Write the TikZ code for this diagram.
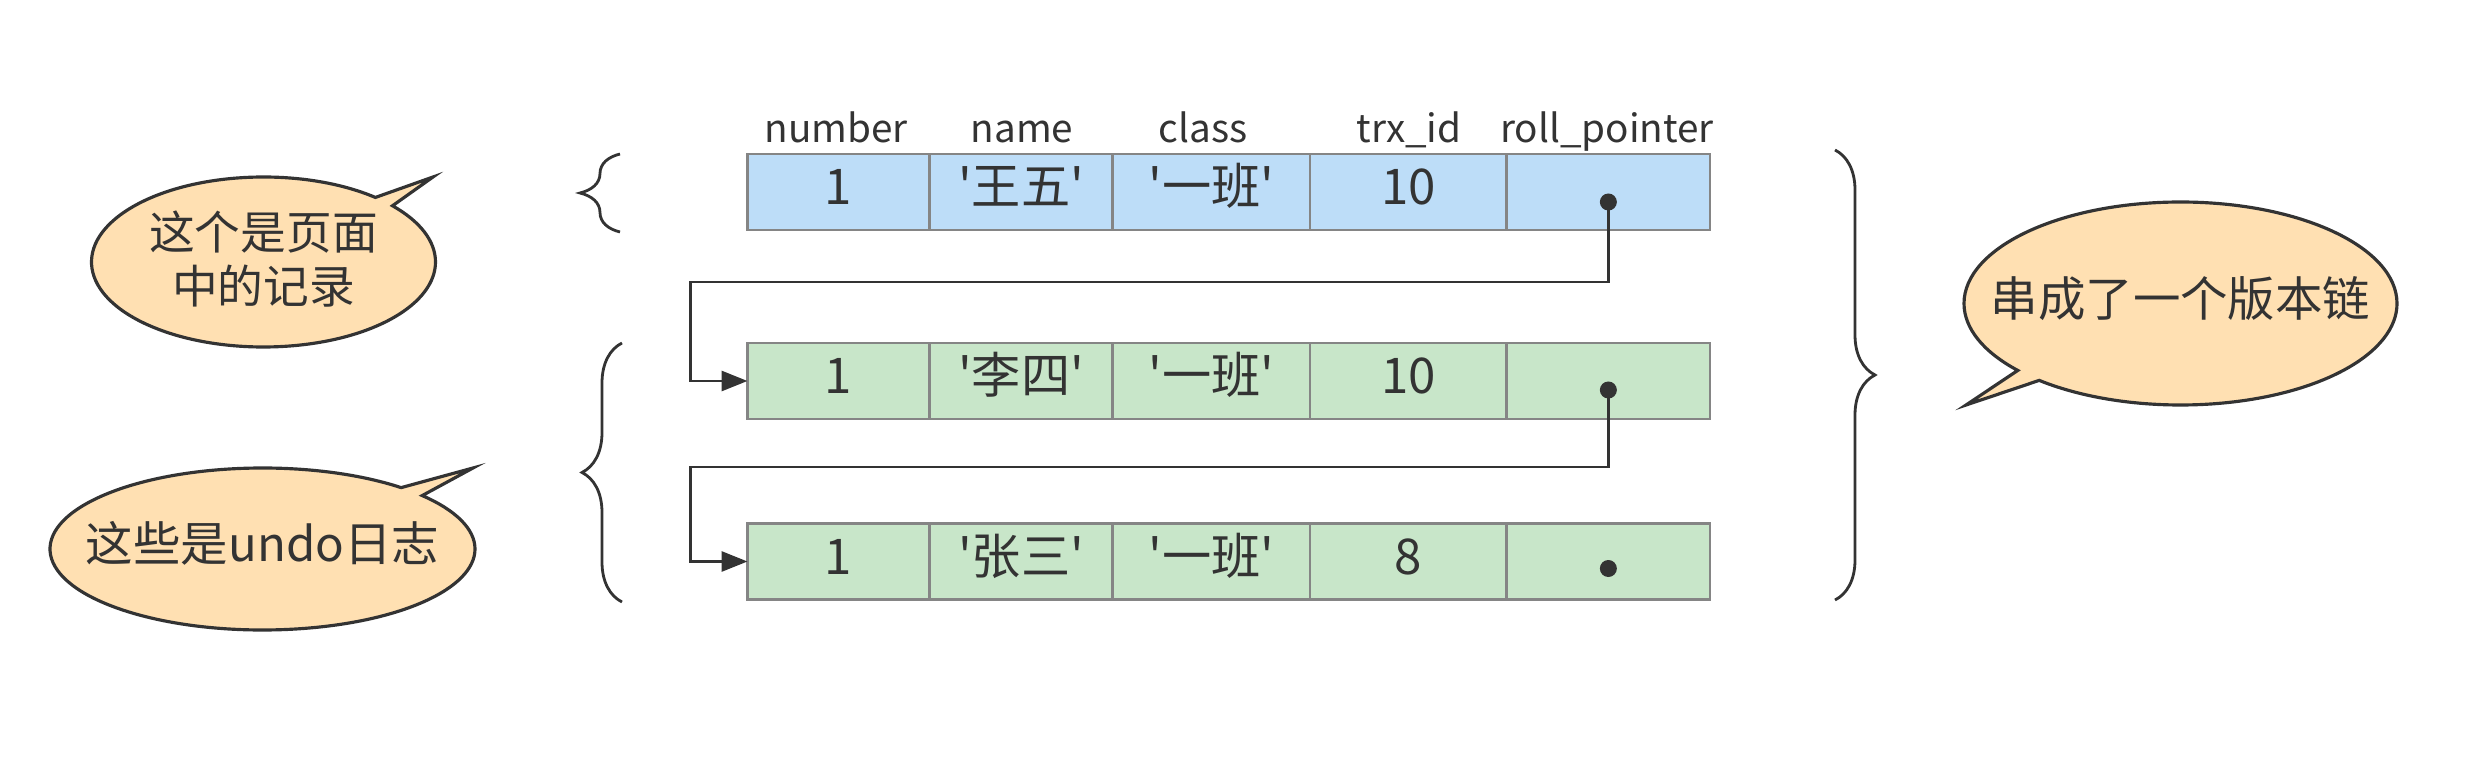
\documentclass[tikz,border=0pt]{standalone}
\usepackage{fontspec}
\setmainfont{Noto Sans CJK SC}
\usetikzlibrary{positioning,shapes.callouts,decorations.pathreplacing,arrows.meta}
\definecolor{pageblue}{HTML}{BDDDF8}
\definecolor{undogreen}{HTML}{C8E6C9}
\definecolor{notefill}{HTML}{FFE0B2}
\definecolor{cellline}{HTML}{858585}
\definecolor{ink}{HTML}{333333}
\newcommand{\qname}[1]{\textquotesingle#1\textquotesingle}
\newcommand{\bubbletext}[1]{\makebox[0pt]{\begin{tabular}{@{}c@{}}#1\end{tabular}}}

\begin{document}
\begin{tikzpicture}[
    cell/.style={draw=cellline, line width=0.7pt, minimum height=0.76cm, inner sep=0pt, outer sep=0pt,
      text=ink, text height=0.85em, text depth=0.12em, font=\fontsize{14pt}{16pt}\selectfont},
    pagecell/.style={cell, fill=pageblue},
    undocell/.style={cell, fill=undogreen},
    header/.style={anchor=base, text=ink, font=\fontsize{11pt}{13pt}\selectfont},
    ptrdot/.style={circle, fill=ink, minimum size=0.17cm, inner sep=0pt},
    link/.style={draw=ink, line width=0.85pt, -{Triangle[length=0.26cm, width=0.2cm]}},
    callnote/.style={ellipse callout, draw=ink, line width=0.9pt, fill=notefill, inner sep=0pt,
      callout pointer arc=8, text=ink, text height=0.76em, text depth=0pt},
    bracket/.style={draw=ink, line width=0.8pt, decorate, decoration={brace, amplitude=0.4cm}}
]
  \useasboundingbox (0,0) rectangle (24.88,-7.74);

  % column names
  \node[header] (hnum)   at (8.36,-1.43)  {number};
  \node[header] (hname)  at (10.22,-1.43) {name};
  \node[header] (hclass) at (12.03,-1.43) {class};
  \node[header] (htrx)   at (14.09,-1.43) {trx\_id};
  \node[header] (hptr)   at (16.07,-1.43) {roll\_pointer};

  % record in the page
  \node[pagecell, minimum width=1.82cm] (num1) at (8.385,-1.92) {1};
  \node[pagecell, minimum width=1.83cm, right=0pt of num1]   (name1)  {\qname{王五}};
  \node[pagecell, minimum width=1.975cm, right=0pt of name1] (class1) {\qname{一班}};
  \node[pagecell, minimum width=1.967cm, right=0pt of class1] (trx1)  {10};
  \node[pagecell, minimum width=2.033cm, right=0pt of trx1]  (ptr1)   {};

  % undo log
  \node[undocell, minimum width=1.82cm] (num2) at (8.385,-3.81) {1};
  \node[undocell, minimum width=1.83cm, right=0pt of num2]   (name2)  {\qname{李四}};
  \node[undocell, minimum width=1.975cm, right=0pt of name2] (class2) {\qname{一班}};
  \node[undocell, minimum width=1.967cm, right=0pt of class2] (trx2)  {10};
  \node[undocell, minimum width=2.033cm, right=0pt of trx2]  (ptr2)   {};

  \node[undocell, minimum width=1.82cm] (num3) at (8.385,-5.615) {1};
  \node[undocell, minimum width=1.83cm, right=0pt of num3]   (name3)  {\qname{张三}};
  \node[undocell, minimum width=1.975cm, right=0pt of name3] (class3) {\qname{一班}};
  \node[undocell, minimum width=1.967cm, right=0pt of class3] (trx3)  {8};
  \node[undocell, minimum width=2.033cm, right=0pt of trx3]  (ptr3)   {};

  \node[ptrdot] (dot1) at ([yshift=-0.1cm]ptr1.center) {};
  \node[ptrdot] (dot2) at ([yshift=-0.09cm]ptr2.center) {};
  \node[ptrdot] (dot3) at ([yshift=-0.07cm]ptr3.center) {};

  % roll pointers
  \coordinate (bend1) at (6.90,-2.82);
  \coordinate (bend2) at (6.90,-4.67);
  \draw[link] (dot1.center) |- (bend1) |- (num2.west);
  \draw[link] (dot2.center) |- (bend2) |- (num3.west);

  % braces
  \draw[bracket] (6.20,-2.32) -- (6.20,-1.54);
  \draw[bracket] (6.22,-6.02) -- (6.22,-3.43);
  \draw[bracket] (18.35,-1.50) -- (18.35,-6.00);

  % notes
  \node[callnote, minimum width=3.44cm, minimum height=1.70cm, font=\fontsize{13pt}{14.5pt}\selectfont,
        callout absolute pointer={(4.33,-1.77)}] (note1) at (2.635,-2.62) {\bubbletext{这个是页面\\中的记录}};
  \node[callnote, minimum width=4.25cm, minimum height=1.62cm, font=\fontsize{13.5pt}{15pt}\selectfont,
        callout absolute pointer={(4.73,-4.68)}] (note2) at (2.625,-5.49) {\bubbletext{这些是undo日志}};
  \node[callnote, minimum width=4.33cm, minimum height=2.03cm, font=\fontsize{13.5pt}{15pt}\selectfont,
        callout absolute pointer={(19.66,-4.05)}] (note3) at (21.805,-3.035) {\bubbletext{串成了一个版本链}};
\end{tikzpicture}
\end{document}
